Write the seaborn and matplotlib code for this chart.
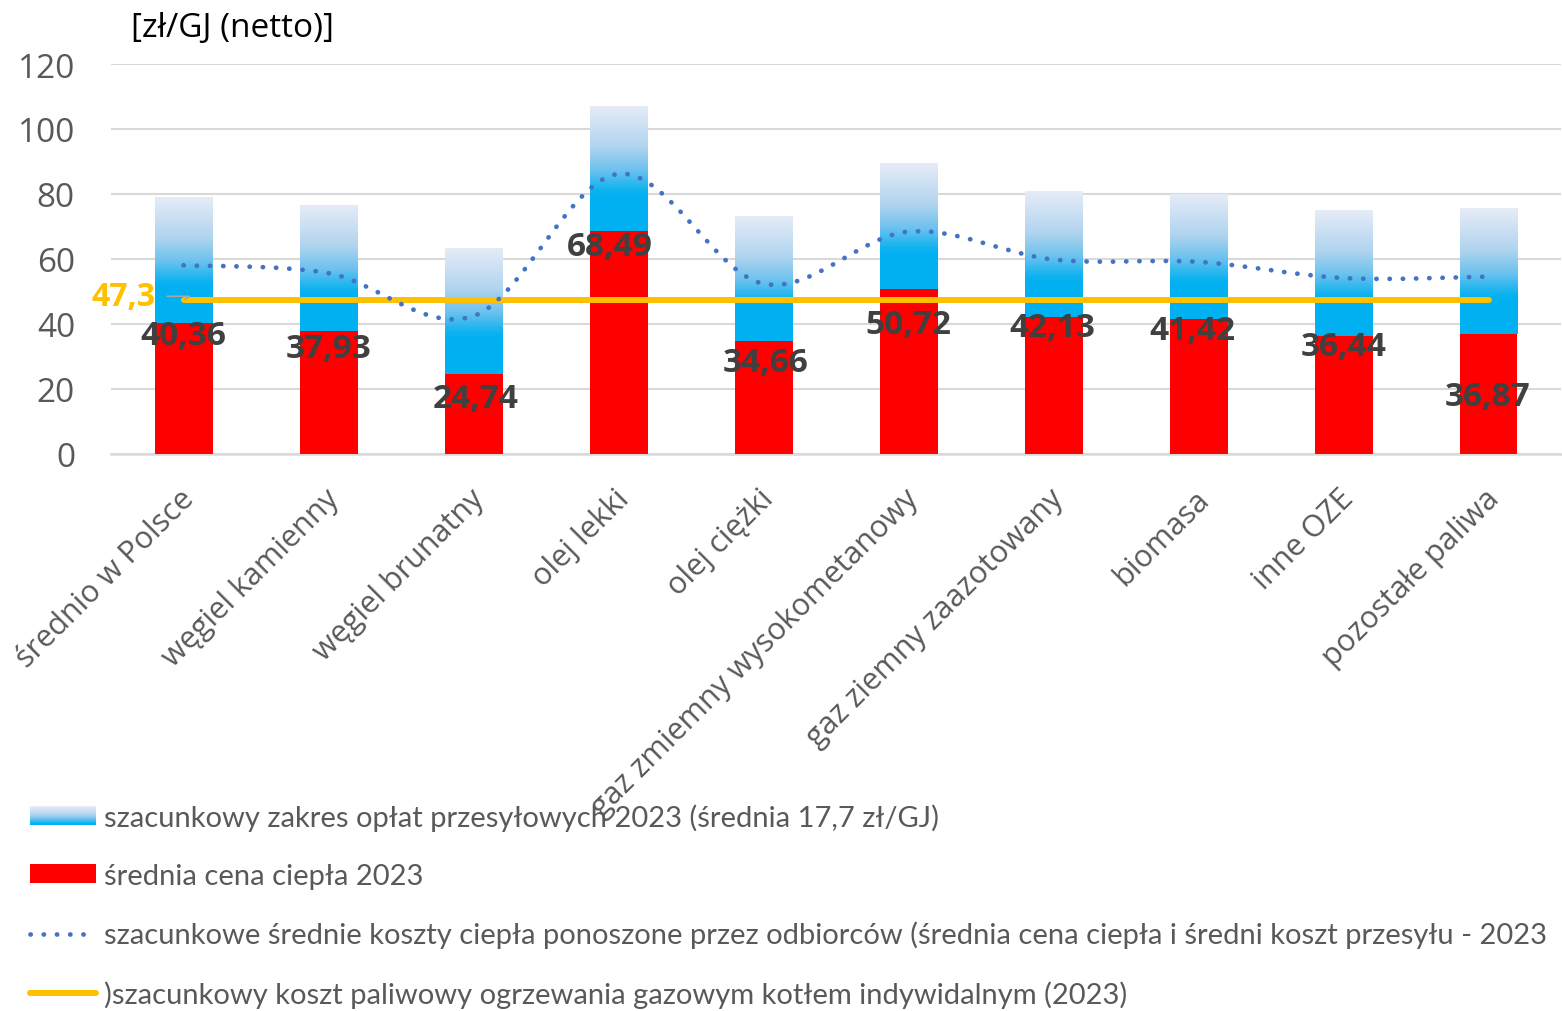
import numpy as np
import matplotlib
matplotlib.use("Agg")
import matplotlib.pyplot as plt
import matplotlib.transforms as mtransforms
import seaborn as sns
from matplotlib.colors import LinearSegmentedColormap
from matplotlib.patches import Rectangle, PathPatch, Patch
from matplotlib.path import Path
from matplotlib.lines import Line2D
from matplotlib.legend_handler import HandlerBase

# ---- data (zł/GJ netto) ----
categories = [
    "średnio w Polsce", "węgiel kamienny", "węgiel brunatny", "olej lekki",
    "olej ciężki", "gaz zmiemny wysokometanowy", "gaz ziemny zaazotowany",
    "biomasa", "inne OZE", "pozostałe paliwa",
]
heat_price = [40.36, 37.93, 24.74, 68.49, 34.66, 50.72, 42.13, 41.42, 36.44, 36.87]
fee_range_low = [50.66, 48.23, 35.04, 78.79, 44.96, 61.02, 52.43, 51.72, 46.74, 47.17]
fee_range_high = [79.06, 76.63, 63.44, 107.19, 73.36, 89.42, 80.83, 80.12, 75.14, 75.57]
consumer_cost = [58.06, 55.63, 42.44, 86.19, 52.36, 68.42, 59.83, 59.12, 54.14, 54.57]
gas_boiler_cost = 47.3

legend_labels = [
    "szacunkowy zakres opłat przesyłowych 2023 (średnia 17,7 zł/GJ)",
    "średnia cena ciepła 2023",
    "szacunkowe średnie koszty ciepła ponoszone przez odbiorców (średnia cena ciepła i średni koszt przesyłu - 2023",
    ")szacunkowy koszt paliwowy ogrzewania gazowym kotłem indywidalnym (2023)",
]
y_unit = "[zł/GJ (netto)]"

# label placement (offsets in pixels from the top of each red bar)
label_dy = [13, 18, 25, 15, 21, 35, 10, 11, 11, 62]
label_dx = [0, 0, 2, -9, 2, 0, -1, -6, 0, -1]

RED = "#FF0000"
BLUE = "#00B0F0"
DOT_BLUE = "#4472C4"
GOLD = "#FFC000"
GRID = "#D9D9D9"
TXT = "#595959"

sns.set_theme(style="white")
plt.rcParams["font.family"] = ["Open Sans", "DejaVu Sans"]

fee_cmap = LinearSegmentedColormap.from_list(
    "fee",
    [(0.0, BLUE), (0.08, "#0DB2F0"), (0.3, "#6CC2EE"), (0.55, "#B0D4EF"), (1.0, "#E7ECF7")],
)

DPI = 100
pt = 72 / DPI
fig = plt.figure(figsize=(15.62, 10.12), dpi=DPI)
ax = fig.add_axes([111 / 1562, 1 - 455 / 1012, 1450 / 1562, 390 / 1012])

x = np.arange(len(categories))
BAR_W = 0.4

# red bars: average heat price
sns.barplot(x=categories, y=heat_price, color=RED, saturation=1, width=BAR_W,
            linewidth=0, ax=ax, zorder=2)

# solid blue base of the transmission-fee range
low_h = np.array(fee_range_low) - np.array(heat_price)
ax.bar(x, low_h, bottom=heat_price, width=BAR_W, color=BLUE, linewidth=0, zorder=2)

# gradient upper part of the transmission-fee range
high_h = np.array(fee_range_high) - np.array(fee_range_low)
grad_bars = ax.bar(x, high_h, bottom=fee_range_low, width=BAR_W, color="none",
                   linewidth=0, zorder=2)
grad = np.linspace(0, 1, 256).reshape(-1, 1)
for p in grad_bars.patches:
    x0, y0 = p.get_x(), p.get_y()
    x1, y1 = x0 + p.get_width(), y0 + p.get_height()
    im = ax.imshow(grad, extent=(x0, x1, y0, y1), origin="lower", aspect="auto",
                   cmap=fee_cmap, vmin=0, vmax=1, zorder=2, interpolation="bilinear")
    im.set_clip_path(p)

# gas boiler fuel cost (flat line)
ax.plot(x, [gas_boiler_cost] * len(x), color=GOLD, lw=4.3, solid_capstyle="round", zorder=3)

# smoothed dotted line of consumer costs (Bezier segments through the points)
pts = np.column_stack([x, consumer_cost]).astype(float)
verts = [tuple(pts[0])]
codes = [Path.MOVETO]
n = len(pts)
for i in range(n - 1):
    p0 = pts[i - 1] if i > 0 else pts[i]
    p1, p2 = pts[i], pts[i + 1]
    p3 = pts[i + 2] if i + 2 < n else pts[i + 1]
    c1 = p1 + (p2 - p0) / 6.0
    c2 = p2 - (p3 - p1) / 6.0
    verts += [tuple(c1), tuple(c2), tuple(p2)]
    codes += [Path.CURVE4] * 3
DOT_LW = 3.4
DOT_STYLE = (0, (0.05, 2.75))
curve = PathPatch(Path(verts, codes), facecolor="none", edgecolor=DOT_BLUE, lw=DOT_LW,
                  linestyle=DOT_STYLE, capstyle="round", zorder=4)
ax.add_patch(curve)

# value labels for the red bars
for i, v in enumerate(heat_price):
    ax.annotate(f"{v:.2f}".replace(".", ","), xy=(i, v),
                xytext=(label_dx[i] * pt, -label_dy[i] * pt), textcoords="offset points",
                ha="center", va="center", fontsize=24, fontweight="bold",
                color="#404040", zorder=6)

# label for the gas boiler line
ax.annotate(f"{gas_boiler_cost:.1f}".replace(".", ","), xy=(0, gas_boiler_cost),
            xytext=(-60 * pt, 4 * pt), textcoords="offset points",
            ha="center", va="center", fontsize=23, fontweight="bold", color=GOLD,
            zorder=6,
            arrowprops=dict(arrowstyle="-", color="#A6A6A6", lw=1.2, shrinkA=6, shrinkB=1,
                            relpos=(1.0, 0.5),
                            connectionstyle="angle,angleA=0,angleB=35,rad=0"))

# axes styling
ax.set_xlim(-0.5, len(categories) - 0.5)
ax.set_ylim(0, 120)
ax.set_yticks(range(0, 121, 20))
ax.set_xlabel("")
ax.set_ylabel("")
ax.set_axisbelow(True)
ax.yaxis.grid(True, color=GRID, lw=1.5)
ax.xaxis.grid(False)
for s in ["left", "right", "top"]:
    ax.spines[s].set_visible(False)
ax.spines["bottom"].set_color(GRID)
ax.spines["bottom"].set_linewidth(1.8)
ax.spines["bottom"].set_zorder(1)

ax.tick_params(axis="y", length=0, pad=36 * pt, labelsize=24, labelcolor=TXT)
ax.tick_params(axis="x", which="major", length=0, pad=40 * pt, labelsize=22, labelcolor=TXT)
ax.set_xticks(x)
ax.set_xticklabels(categories, rotation=45, ha="right", va="center", rotation_mode="anchor")
shift = mtransforms.ScaledTranslation(6 / DPI, 0, fig.dpi_scale_trans)
for lab in ax.get_xticklabels():
    lab.set_transform(lab.get_transform() + shift)
ax.set_xticks(np.arange(-0.5, len(categories)), minor=True)
ax.tick_params(axis="x", which="minor", length=8, width=1.8, color=GRID, direction="out")

fig.text(131 / 1562, 1 - 29 / 1012, y_unit, fontsize=24, color="black",
         ha="left", va="center")


# legend with a gradient swatch for the fee range
class GradientHandler(HandlerBase):
    def create_artists(self, legend, orig_handle, xdescent, ydescent, width, height,
                       fontsize, trans):
        steps = 30
        cols = fee_cmap(np.linspace(0, 1, steps))
        arts = []
        for k in range(steps):
            arts.append(Rectangle((-xdescent, -ydescent + height * k / steps), width,
                                  height / steps * 1.05, facecolor=cols[k],
                                  edgecolor="none", transform=trans))
        return arts


grad_handle = Rectangle((0, 0), 1, 1)
handles = [
    grad_handle,
    Patch(facecolor=RED, edgecolor="none"),
    Line2D([], [], color=DOT_BLUE, lw=DOT_LW, linestyle=DOT_STYLE, dash_capstyle="round"),
    Line2D([], [], color=GOLD, lw=4.3, solid_capstyle="round"),
]
leg = fig.legend(handles, legend_labels, loc="upper left",
                 bbox_to_anchor=(30 / 1562, 1 - 804 / 1012), frameon=False,
                 prop={"family": ["Lato", "DejaVu Sans"], "size": 21},
                 handlelength=2.25, handleheight=0.62, handletextpad=0.3,
                 labelspacing=1.1, borderpad=0, borderaxespad=0,
                 handler_map={grad_handle: GradientHandler()})
for t in leg.get_texts():
    t.set_color(TXT)

fig.savefig("out.png", dpi=DPI, facecolor="white")
